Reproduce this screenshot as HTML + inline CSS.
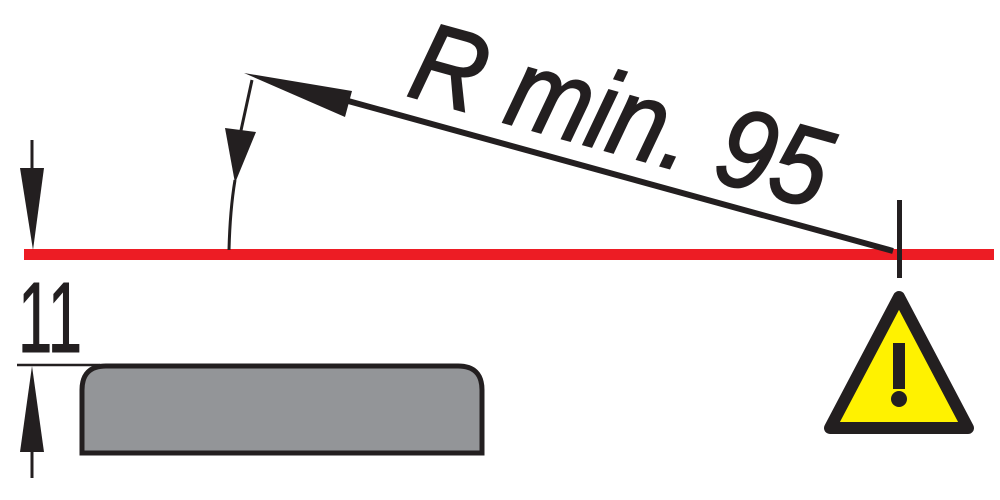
<!DOCTYPE html>
<html><head><style>html,body{margin:0;padding:0;background:#fff;}svg{display:block}</style></head>
<body>
<svg width="1000" height="500" viewBox="0 0 1000 500" xmlns="http://www.w3.org/2000/svg">
<rect width="1000" height="500" fill="#fff"/>
<rect x="24" y="249" width="970" height="11" fill="#ed1c24"/>
<line x1="32" y1="140" x2="32" y2="175" stroke="#231f20" stroke-width="3"/>
<polygon points="20,168 44,168 33,250" fill="#231f20"/>
<text x="18" y="352" font-family="Liberation Sans, sans-serif" font-size="100" fill="#231f20" stroke="#231f20" stroke-width="1" textLength="64" lengthAdjust="spacingAndGlyphs">11</text>
<line x1="17" y1="365" x2="100" y2="365" stroke="#231f20" stroke-width="2.5"/>
<polygon points="20,452 44,452 32,366" fill="#231f20"/>
<line x1="32" y1="450" x2="32" y2="478" stroke="#231f20" stroke-width="3"/>
<path d="M82,453 L82,390 Q82,366 106,366 L458,366 Q482,366 482,390 L482,453 Z" fill="#939598" stroke="#231f20" stroke-width="5"/>
<line x1="252" y1="80" x2="240" y2="135" stroke="#231f20" stroke-width="3"/>
<polygon points="225,128 256,132 235,183" fill="#231f20"/>
<path d="M235,180 Q230,210 229,250" fill="none" stroke="#231f20" stroke-width="3"/>
<line x1="330" y1="96" x2="893" y2="251" stroke="#231f20" stroke-width="6"/>
<polygon points="244,73 352,91 345,117" fill="#231f20"/>
<rect x="897" y="200" width="5" height="78" fill="#231f20"/>
<text x="405" y="95" transform="rotate(15.5 405 95)" font-family="Liberation Sans, sans-serif" font-size="112" font-style="italic" fill="#231f20" stroke="#231f20" stroke-width="2" textLength="428" lengthAdjust="spacingAndGlyphs">R min. 95</text>
<path d="M899,297 L830,428 L968,428 Z" fill="#fff200" stroke="#231f20" stroke-width="12" stroke-linejoin="round"/>
<rect x="893" y="343" width="12" height="46" fill="#231f20"/>
<circle cx="899" cy="399" r="8" fill="#231f20"/>
</svg>
</body></html>
